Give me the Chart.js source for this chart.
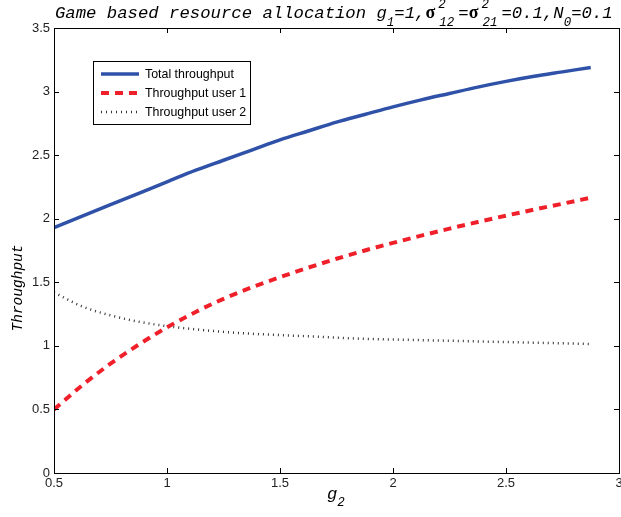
<!DOCTYPE html>
<html>
<head>
<meta charset="utf-8">
<script src="https://cdn.jsdelivr.net/npm/chart.js@4"></script>
<style>
  html, body { margin: 0; padding: 0; background: #fff; }
  canvas { display: block; }
</style>
</head>
<body>
<canvas id="chart" width="621" height="517"></canvas>
<script>
// g2 values and the three throughput curves
const g2Values = [0.5, 0.625, 0.75, 0.875, 1.0, 1.125, 1.25, 1.375, 1.5, 1.625,
                  1.75, 1.875, 2.0, 2.125, 2.25, 2.375, 2.5, 2.625, 2.75, 2.875];
const totalThroughput = [1.93, 2.02, 2.11, 2.20, 2.29, 2.38, 2.46, 2.54, 2.62, 2.69,
                         2.76, 2.82, 2.88, 2.935, 2.985, 3.035, 3.08, 3.12, 3.155, 3.19];
const user1Throughput = [0.50, 0.69, 0.86, 1.01, 1.145, 1.265, 1.37, 1.46, 1.54, 1.615,
                         1.685, 1.75, 1.81, 1.867, 1.922, 1.974, 2.024, 2.072, 2.118, 2.165];
const user2Throughput = [1.42, 1.31, 1.24, 1.19, 1.155, 1.13, 1.11, 1.095, 1.085, 1.075,
                         1.065, 1.055, 1.05, 1.045, 1.04, 1.035, 1.03, 1.025, 1.02, 1.015];
const seriesNames = ['Total throughput', 'Throughput user 1', 'Throughput user 2'];
const xTicks = [0.5, 1, 1.5, 2, 2.5, 3];
const yTicks = [0, 0.5, 1, 1.5, 2, 2.5, 3, 3.5];

const toPoints = ys => g2Values.map((x, i) => ({ x: x, y: ys[i] }));

const SANS = '"Liberation Sans", Arial, sans-serif';
const MONO = '"Liberation Mono", "Courier New", monospace';

// draws box, inward ticks, legend, title and axis labels the MATLAB way
const matlabFrame = {
    id: 'matlabFrame',
    afterDraw(chart) {
        const ctx = chart.ctx;
        const a = chart.chartArea;
        const xs = chart.scales.x, ys = chart.scales.y;
        ctx.save();
        ctx.strokeStyle = '#000';
        ctx.lineWidth = 1;
        ctx.strokeRect(Math.round(a.left) + 0.5, Math.round(a.top) + 0.5,
                       Math.round(a.right - a.left), Math.round(a.bottom - a.top));
        ctx.beginPath();
        xTicks.forEach(v => {
            const px = Math.round(xs.getPixelForValue(v)) + 0.5;
            ctx.moveTo(px, a.bottom); ctx.lineTo(px, a.bottom - 5);
            ctx.moveTo(px, a.top); ctx.lineTo(px, a.top + 5);
        });
        yTicks.forEach(v => {
            const py = Math.round(ys.getPixelForValue(v)) + 0.5;
            ctx.moveTo(a.left, py); ctx.lineTo(a.left + 5, py);
            ctx.moveTo(a.right, py); ctx.lineTo(a.right - 5, py);
        });
        ctx.stroke();

        // legend
        const lx = 93, ly = 61, lw = 157, lh = 63;
        ctx.fillStyle = '#fff';
        ctx.fillRect(lx, ly, lw, lh);
        ctx.strokeRect(lx + 0.5, ly + 0.5, lw, lh);
        const rows = [74, 93, 112];
        chart.data.datasets.forEach((ds, i) => {
            ctx.save();
            ctx.strokeStyle = ds.borderColor;
            ctx.lineWidth = ds.borderWidth;
            ctx.setLineDash(ds.borderDash || []);
            ctx.beginPath();
            ctx.moveTo(101, rows[i]); ctx.lineTo(139, rows[i]);
            ctx.stroke();
            ctx.restore();
            ctx.fillStyle = '#000';
            ctx.font = '12.4px ' + SANS;
            ctx.textBaseline = 'middle';
            ctx.textAlign = 'left';
            ctx.fillText(ds.label, 145, rows[i] + 1);
        });

        // title with sub/superscripts
        const big = 'italic 17.3px ' + MONO;
        const small = 'italic 12.5px ' + MONO;
        const sigma = 'bold 18px "Liberation Serif", serif';
        const base = 18;
        let x = 55;
        ctx.fillStyle = '#000';
        ctx.textBaseline = 'alphabetic';
        ctx.textAlign = 'left';
        const put = (txt, font, dy) => {
            ctx.font = font;
            ctx.fillText(txt, x, base + dy);
            x += ctx.measureText(txt).width;
        };
        const supSub = (sup, sub) => {
            ctx.font = small;
            ctx.fillText(sup, x + 3, base - 10);
            ctx.fillText(sub, x + 4, base + 8);
            x += Math.max(ctx.measureText(sup).width, ctx.measureText(sub).width) + 8;
        };
        put('Game based resource allocation g', big, 0);
        put('1', small, 8);
        put('=1,', big, 0);
        put('\u03c3', sigma, 0);
        supSub('2', '12');
        put('=', big, 0);
        put('\u03c3', sigma, 0);
        supSub('2', '21');
        put('=0.1,N', big, 0);
        put('0', small, 8);
        put('=0.1', big, 0);

        // x label g_2
        x = 327;
        ctx.font = big;
        ctx.fillText('g', x, 499);
        x += ctx.measureText('g').width;
        ctx.font = small;
        ctx.fillText('2', x, 506);

        // y label
        ctx.save();
        ctx.translate(22, 288);
        ctx.rotate(-Math.PI / 2);
        ctx.font = 'italic 14.5px ' + MONO;
        ctx.textAlign = 'center';
        ctx.textBaseline = 'alphabetic';
        ctx.fillText('Throughput', 0, 0);
        ctx.restore();
        ctx.restore();
    }
};

new Chart(document.getElementById('chart').getContext('2d'), {
    type: 'line',
    data: {
        datasets: [
            {
                label: seriesNames[0],
                data: toPoints(totalThroughput),
                borderColor: '#2f52a8',
                borderWidth: 3.5,
                pointRadius: 0,
                cubicInterpolationMode: 'monotone'
            },
            {
                label: seriesNames[1],
                data: toPoints(user1Throughput),
                borderColor: '#f0202a',
                borderWidth: 4,
                borderDash: [8, 6],
                pointRadius: 0,
                cubicInterpolationMode: 'monotone'
            },
            {
                label: seriesNames[2],
                data: toPoints(user2Throughput),
                borderColor: '#333',
                borderWidth: 2.5,
                borderDash: [1, 4],
                pointRadius: 0,
                cubicInterpolationMode: 'monotone'
            }
        ]
    },
    options: {
        responsive: false,
        animation: false,
        layout: { padding: { top: 28, right: 2, left: 0, bottom: 0 } },
        plugins: {
            legend: { display: false },
            tooltip: { enabled: false },
            title: { display: false }
        },
        scales: {
            x: {
                type: 'linear',
                min: 0.5,
                max: 3,
                afterBuildTicks: s => { s.ticks = xTicks.map(v => ({ value: v })); },
                afterFit: s => { s.height = 44; s.paddingLeft = 0; s.paddingRight = 0; },
                grid: { display: false, drawTicks: false, tickLength: 0 },
                border: { display: false },
                ticks: {
                    color: '#222',
                    font: { family: SANS, size: 13 },
                    padding: 3,
                    maxRotation: 0,
                    autoSkip: false,
                    callback: v => String(v)
                }
            },
            y: {
                min: 0,
                max: 3.5,
                afterBuildTicks: s => { s.ticks = yTicks.map(v => ({ value: v })); },
                afterFit: s => { s.width = 54; },
                grid: { display: false, drawTicks: false, tickLength: 0 },
                border: { display: false },
                ticks: {
                    color: '#222',
                    font: { family: SANS, size: 13 },
                    padding: 4,
                    autoSkip: false,
                    callback: v => String(v)
                }
            }
        }
    },
    plugins: [matlabFrame]
});
</script>
</body>
</html>
